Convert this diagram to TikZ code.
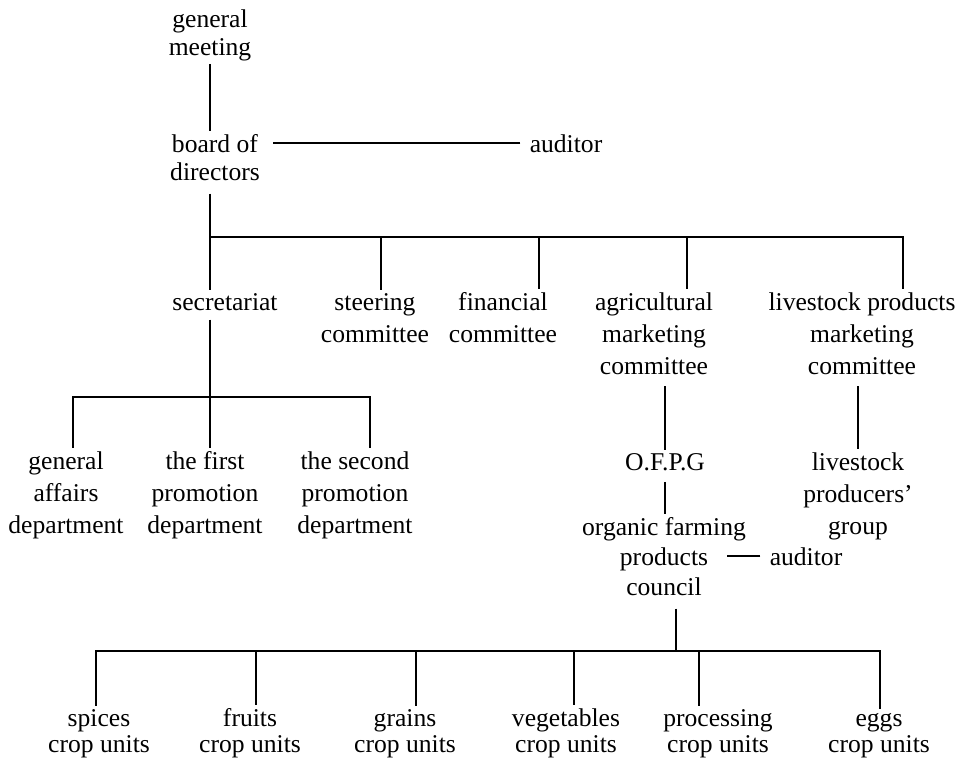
\documentclass[tikz,border=0pt]{standalone}
\usepackage{fontspec}
\setmainfont{Liberation Serif}
\usetikzlibrary{positioning}

\begin{document}
\begin{tikzpicture}[
  x=0.5pt, y=-0.5pt,
  unit/.style={align=center, anchor=base, inner sep=1.5pt,
    font=\fontsize{12.8}{#1}\selectfont},
  unit/.default=16,
  cropunit/.style={unit=13},
  link/.style={line width=0.8pt}
]
\useasboundingbox (0,0) rectangle (963,761);
\node[unit=14] (gm) at (210,55) {general\\meeting};
\node[unit=14] (board) at (215,180) {board of\\directors};
\node[unit] (aud1) at (566,152) {auditor};
\node[unit] (sec) at (225,310) {secretariat};
\node[unit] (steer) at (375,342) {steering\\committee};
\node[unit] (fin) at (503,342) {financial\\committee};
\node[unit] (agri) at (654,374) {agricultural\\marketing\\committee};
\node[unit] (live) at (862,374) {livestock products\\marketing\\committee};
\node[unit] (ga) at (66,533) {general\\affairs\\department};
\node[unit] (first) at (205,533) {the first\\promotion\\department};
\node[unit] (second) at (355,533) {the second\\promotion\\department};
\node[unit] (ofpg) at (665,470) {O.F.P.G};
\node[unit] (lpg) at (858,534) {livestock\\producers'\\group};
\node[unit=15] (ofpc) at (664,595) {organic farming\\products\\council};
\node[unit] (aud2) at (806,565) {auditor};
\node[cropunit] (spices) at (99,752) {spices\\crop units};
\node[cropunit] (fruits) at (250,752) {fruits\\crop units};
\node[cropunit] (grains) at (405,752) {grains\\crop units};
\node[cropunit] (veg) at (566,752) {vegetables\\crop units};
\node[cropunit] (proc) at (718,752) {processing\\crop units};
\node[cropunit] (eggs) at (879,752) {eggs\\crop units};
\coordinate (busA) at (210,237);
\coordinate (dSteer) at (381,237);
\coordinate (dFin) at (539,237);
\coordinate (dAgri) at (687,237);
\coordinate (dLive) at (903,237);
\coordinate (busB) at (210,397);
\coordinate (dGa) at (73,397);
\coordinate (dSecond) at (370,397);
\coordinate (busC) at (676,651);
\coordinate (dSpices) at (96,651);
\coordinate (dFruits) at (256,651);
\coordinate (dGrains) at (416,651);
\coordinate (dVeg) at (574,651);
\coordinate (dProc) at (699,651);
\coordinate (dEggs) at (880,651);
\draw[link] (gm.south) -- (gm.south |- board.north);
\draw[link, shorten <=3pt, shorten >=5pt] (aud1.west) -- (aud1.west -| board.east);
\draw[link, shorten <=5pt] (busA |- board.south) -- (busA) -- (dLive) -- (dLive |- live.north);
\draw[link] (busA) -- (busA |- sec.north);
\draw[link] (dSteer) -- (dSteer |- steer.north);
\draw[link] (dFin) -- (dFin |- fin.north);
\draw[link] (dAgri) -- (dAgri |- agri.north);
\draw[link, shorten <=3pt] (busB |- sec.south) -- (busB);
\draw[link] (dGa |- ga.north) -- (dGa) -- (dSecond) -- (dSecond |- second.north);
\draw[link] (busB) -- (busB |- first.north);
\draw[link, shorten >=4pt] (ofpg.north) -- (ofpg.north |- agri.south);
\draw[link, shorten <=4pt] (ofpg.south) -- (ofpg.south |- ofpc.north);
\draw[link, shorten >=4pt] (lpg.north) -- (lpg.north |- live.south);
\draw[link, shorten <=3pt] (aud2.west) -- ++(-39,0);
\draw[link, shorten <=5pt] (busC |- ofpc.south) -- (busC);
\draw[link] (dSpices |- spices.north) -- (dSpices) -- (dEggs) -- (dEggs |- eggs.north);
\draw[link] (dFruits) -- (dFruits |- fruits.north);
\draw[link] (dGrains) -- (dGrains |- grains.north);
\draw[link] (dVeg) -- (dVeg |- veg.north);
\draw[link] (dProc) -- (dProc |- proc.north);
\end{tikzpicture}
\end{document}
